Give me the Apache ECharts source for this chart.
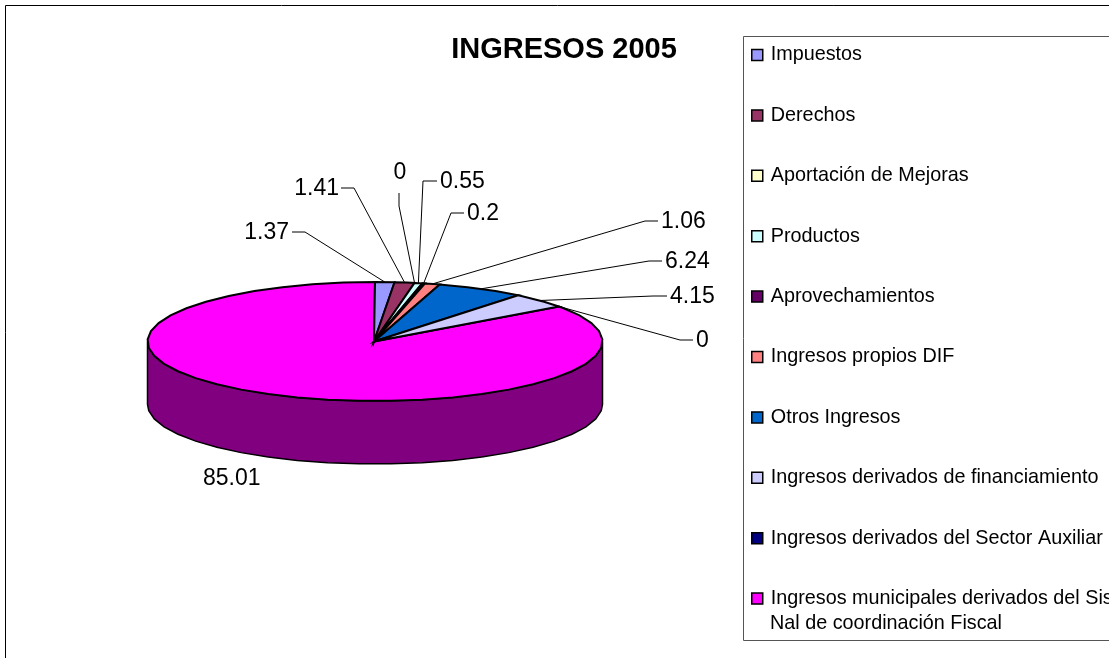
<!DOCTYPE html>
<html>
<head>
<meta charset="utf-8">
<title>INGRESOS 2005</title>
<script src="https://cdn.jsdelivr.net/npm/echarts@6/dist/echarts.min.js"></script>
<style>
html,body{margin:0;padding:0;background:#fff;overflow:hidden;}
#chart{width:1109px;height:658px;}
</style>
</head>
<body>
<div id="chart"></div>
<script>
var categories = [
    'Impuestos',
    'Derechos',
    'Aportación de Mejoras',
    'Productos',
    'Aprovechamientos',
    'Ingresos propios DIF',
    'Otros Ingresos',
    'Ingresos derivados de financiamiento',
    'Ingresos derivados del Sector Auxiliar',
    'Ingresos municipales derivados del Sistema'
];
// second line of the last legend entry
var lastCategoryLine2 = 'Nal de coordinación Fiscal';
var values = [1.37, 1.41, 0, 0.55, 0.2, 1.06, 6.24, 4.15, 0, 85.01];
var colors = ['#9999FF', '#993366', '#FFFFCC', '#CCFFFF', '#660066', '#FF8080', '#0066CC', '#CCCCFF', '#000080', '#FF00FF'];

// where each value label sits, and the elbow of its leader line (null = no leader)
var labelPos = [[289, 233], [339, 189], [400, 173], [440, 182], [467, 214], [661, 222], [665, 262], [670, 297], [696, 341], [203, 479]];
var labelAlign = ['right', 'right', 'center', 'left', 'left', 'left', 'left', 'left', 'left', 'left'];
var elbows = [[305, 232], [354, 188], [399, 206], [423, 181], [451, 213], [645, 221], [649, 261], [653, 296], [680, 340], null];
var elbowEnds = [[292, 232], [341, 188], [399, 193], [437, 181], [464, 213], [658, 221], [662, 261], [667, 296], [693, 340], null];

var cx = 375, cy = 341.5, rx = 227.5, ry = 59.5, depth = 63;
var FONT = '"Liberation Sans", Arial, sans-serif';

var total = values.reduce(function (a, b) { return a + b; }, 0);

function rimPoint(deg, dy) {
    var a = deg * Math.PI / 180;
    return [cx + rx * Math.sin(a), cy - ry * Math.cos(a) + (dy || 0)];
}
// outline is coarse on purpose, the original pie edge is faceted
function rim(start, end, dy) {
    var pts = [rimPoint(start, dy)];
    var step = 8;
    for (var d = Math.ceil(start / step + 0.001) * step; d < end; d += step) {
        pts.push(rimPoint(d, dy));
    }
    pts.push(rimPoint(end, dy));
    return pts;
}

function renderSlice(index) {
    return function (params, api) {
        var before = 0;
        for (var i = 0; i < index; i++) before += values[i];
        var start = before / total * 360;
        var end = (before + api.value(0)) / total * 360;
        var children = [];

        // side wall, only the front half of the pie shows it
        var wallStart = Math.max(start, 90), wallEnd = Math.min(end, 270);
        if (wallEnd > wallStart) {
            children.push({
                type: 'polygon',
                shape: { points: rim(wallStart, wallEnd, 0).concat(rim(wallStart, wallEnd, depth).reverse()) },
                style: { fill: '#800080', stroke: '#000', lineWidth: 1.5 }
            });
        }
        if (end > start) {
            children.push({
                type: 'polygon',
                shape: { points: [[cx - 1, cy]].concat(rim(start, end, 0)) },
                style: { fill: colors[index], stroke: '#000', lineWidth: 2, lineJoin: 'miter' }
            });
        }
        if (elbows[index]) {
            children.push({
                type: 'polyline',
                shape: { points: [elbowEnds[index], elbows[index], rimPoint((start + end) / 2, 0)] },
                style: { fill: null, stroke: '#000', lineWidth: 1 }
            });
        }
        children.push({
            type: 'text',
            style: {
                x: labelPos[index][0],
                y: labelPos[index][1],
                text: String(api.value(0)),
                font: '23px ' + FONT,
                fill: '#000',
                align: labelAlign[index],
                verticalAlign: 'middle'
            }
        });
        return { type: 'group', children: children };
    };
}

var series = categories.map(function (name, i) {
    return {
        name: name,
        type: 'custom',
        coordinateSystem: 'none',
        silent: true,
        animation: false,
        itemStyle: { color: colors[i] },
        z: i === categories.length - 1 ? 1 : 2,
        renderItem: renderSlice(i),
        data: [[values[i]]]
    };
});

var option = {
    backgroundColor: '#fff',
    animation: false,
    title: {
        text: 'INGRESOS 2005',
        left: 559,
        top: 30,
        textAlign: 'center',
        textStyle: { fontFamily: FONT, fontSize: 29, fontWeight: 'bold', color: '#000' }
    },
    legend: {
        orient: 'vertical',
        left: 751,
        top: 45,
        height: 600,
        padding: 0,
        icon: 'rect',
        itemWidth: 11,
        itemHeight: 11,
        itemGap: 40.4,
        selectedMode: false,
        itemStyle: { borderColor: '#000', borderWidth: 1.5 },
        textStyle: { fontFamily: FONT, fontSize: 19.8, color: '#000', lineHeight: 20, padding: [0, 0, 0, 3] },
        data: categories
    },
    graphic: [
        { type: 'rect', silent: true, z: -1, shape: { x: 5.5, y: 5.5, width: 1200, height: 700 }, style: { fill: '#fff', stroke: '#000', lineWidth: 1 } },
        { type: 'rect', silent: true, z: -1, shape: { x: 743.5, y: 36.5, width: 500, height: 604 }, style: { fill: '#fff', stroke: '#555', lineWidth: 1 } },
        { type: 'text', silent: true, style: { x: 770, y: 624, text: lastCategoryLine2, font: '19.8px ' + FONT, fill: '#000', verticalAlign: 'middle' } }
    ],
    series: series
};

var myChart = echarts.init(document.getElementById('chart'));
myChart.setOption(option);
window.addEventListener('resize', function () {
    myChart.resize();
});
</script>
</body>
</html>
